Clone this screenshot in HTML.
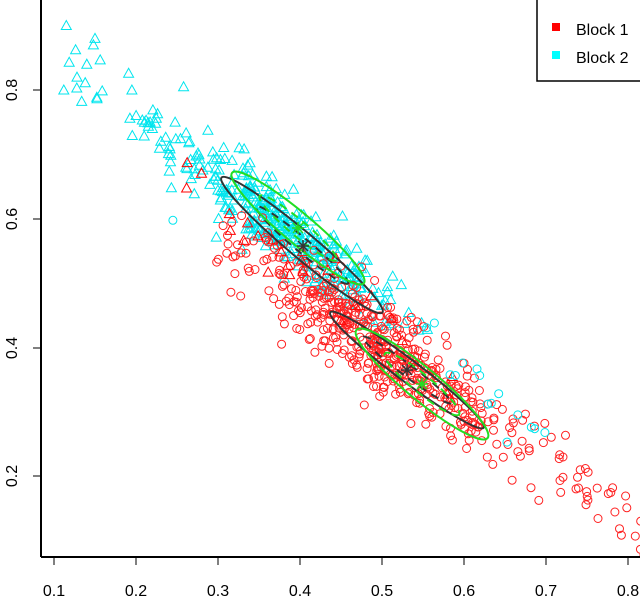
<!DOCTYPE html>
<html><head><meta charset="utf-8"><style>
html,body{margin:0;padding:0;background:#fff;}
svg{display:block;font-family:"Liberation Sans",Arial,sans-serif;}
</style></head><body>
<svg id="s" width="640" height="596" viewBox="0 0 640 596" xmlns="http://www.w3.org/2000/svg">
<g id="pts"></g>
<g id="ell" fill="none" stroke-width="2"></g>
<line x1="41" y1="0" x2="41" y2="557" stroke="#000" stroke-width="2"/>
<line x1="41" y1="557" x2="640" y2="557" stroke="#000" stroke-width="2"/>
<g stroke="#000" stroke-width="1">
<line x1="54" y1="557" x2="54" y2="565"/><line x1="136" y1="557" x2="136" y2="565"/>
<line x1="218" y1="557" x2="218" y2="565"/><line x1="300" y1="557" x2="300" y2="565"/>
<line x1="382" y1="557" x2="382" y2="565"/><line x1="464" y1="557" x2="464" y2="565"/>
<line x1="546" y1="557" x2="546" y2="565"/><line x1="628" y1="557" x2="628" y2="565"/>
<line x1="33" y1="90" x2="41" y2="90"/><line x1="33" y1="219" x2="41" y2="219"/>
<line x1="33" y1="348" x2="41" y2="348"/><line x1="33" y1="476" x2="41" y2="476"/>
</g>
<g font-size="16" fill="#000" text-anchor="middle">
<text x="54" y="596">0.1</text><text x="136" y="596">0.2</text><text x="218" y="596">0.3</text>
<text x="300" y="596">0.4</text><text x="382" y="596">0.5</text><text x="464" y="596">0.6</text>
<text x="546" y="596">0.7</text><text x="628" y="596">0.8</text>
<text transform="translate(17,90) rotate(-90)">0.8</text>
<text transform="translate(17,219) rotate(-90)">0.6</text>
<text transform="translate(17,348) rotate(-90)">0.4</text>
<text transform="translate(17,476) rotate(-90)">0.2</text>
</g>
<rect x="537" y="-2" width="110" height="83" fill="#fff" stroke="#000" stroke-width="1.5"/>
<rect x="552" y="23" width="8" height="8" fill="#f00"/>
<rect x="552" y="51" width="8" height="8" fill="#0ff"/>
<text x="576" y="35" font-size="16">Block 1</text>
<text x="576" y="63" font-size="16">Block 2</text>
</svg>
<script>
var seed=12345;function rnd(){seed=(seed*1103515245+12345)%2147483648;return seed/2147483648;}
function nrm(){var u=rnd()||1e-9,v=rnd();return Math.sqrt(-2*Math.log(u))*Math.cos(2*Math.PI*v);}
function X(v){return 54+(v-0.1)*820;}function Y(v){return 90+(0.8-v)*645;}
var g=document.getElementById('pts'),h='';
function circ(x,y,c){h+='<circle cx="'+X(x).toFixed(1)+'" cy="'+Y(y).toFixed(1)+'" r="4" fill="none" stroke="'+c+'" stroke-width="1"/>';}
function tri(x,y,c){var px=X(x),py=Y(y);h+='<polygon points="'+(px-5).toFixed(1)+','+(py+4).toFixed(1)+' '+(px+5).toFixed(1)+','+(py+4).toFixed(1)+' '+px.toFixed(1)+','+(py-5).toFixed(1)+'" fill="none" stroke="'+c+'" stroke-width="1"/>';}
var i,x,y;
for(i=0;i<380;i++){x=rnd()<0.95?0.37+nrm()*0.07:0.1+rnd()*0.15;if(x<0.11)x=0.11+rnd()*0.05;if(x>0.63)x=0.55+rnd()*0.07;y=0.95-0.95*x+nrm()*0.028;tri(x,y,'#00e5ee');}
[[0.115,0.9],[0.15,0.88],[0.148,0.87],[0.14,0.84],[0.128,0.82],[0.112,0.8],[0.195,0.8],[0.258,0.805]].forEach(function(p){tri(p[0],p[1],'#00e5ee');});
for(i=0;i<520;i++){var r=rnd();x=r<0.88?0.48+nrm()*0.075:0.6+rnd()*0.23;if(x<0.29)x=0.29+rnd()*0.05;y=0.85-0.9*x+nrm()*0.037;circ(x,y,'#ff2020');}
for(i=0;i<28;i++){x=0.25+rnd()*0.35;y=0.9-0.92*x+nrm()*0.025;tri(x,y,'#ff0000');}
for(i=0;i<15;i++){x=0.55+rnd()*0.16;y=0.9-0.9*x+nrm()*0.02;circ(x,y,'#00e5ee');}
circ(0.245,0.598,'#00e5ee');
g.innerHTML=h;
var e='';
function ell(cx,cy,a,b,ang,c,d){e+='<ellipse cx="'+cx+'" cy="'+cy+'" rx="'+a+'" ry="'+b+'" transform="rotate('+ang+' '+cx+' '+cy+')" stroke="'+c+'"'+(d?' stroke-dasharray="8,6"':'')+'/>';}
function star(cx,cy,c){e+='<g stroke="'+c+'" stroke-width="1.5"><line x1="'+(cx-6)+'" y1="'+cy+'" x2="'+(cx+6)+'" y2="'+cy+'"/><line x1="'+cx+'" y1="'+(cy-6)+'" x2="'+cx+'" y2="'+(cy+6)+'"/><line x1="'+(cx-5)+'" y1="'+(cy-5)+'" x2="'+(cx+5)+'" y2="'+(cy+5)+'"/><line x1="'+(cx-5)+'" y1="'+(cy+5)+'" x2="'+(cx+5)+'" y2="'+(cy-5)+'"/></g>';}
ell(302,245,105,13,40,'#333',0);ell(302,245,60,7,40,'#333',1);
ell(298,228,86,15,40,'#22dd22',0);ell(298,228,50,8,40,'#22dd22',1);
ell(407,370,96,11,37,'#333',0);ell(407,370,55,6,37,'#333',1);
ell(422,384,85,16,39.5,'#22dd22',0);ell(422,384,48,9,39.5,'#22dd22',1);
star(303,246,'#333');star(298,228,'#22dd22');star(407,370,'#333');star(422,384,'#22dd22');
document.getElementById('ell').innerHTML=e;
</script>
</body></html>
